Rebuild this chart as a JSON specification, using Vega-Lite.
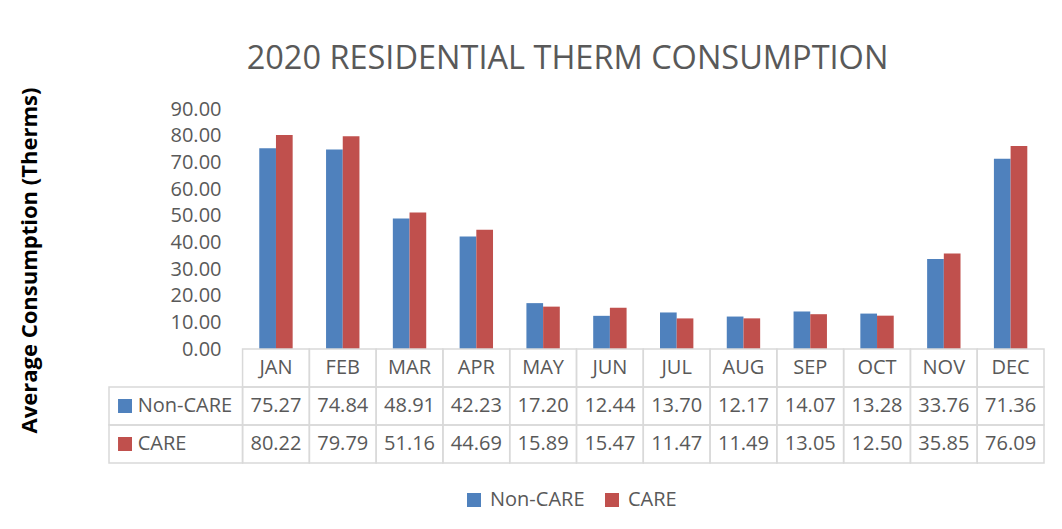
{
  "$schema": "https://vega.github.io/schema/vega-lite/v6.json",
  "width": 935,
  "height": 354,
  "autosize": {"type": "none"},
  "padding": {"left": 109, "top": 109, "right": 18, "bottom": 66},
  "background": "#ffffff",
  "config": {"view": {"stroke": null}, "font": "Open Sans"},
  "title": {
    "text": "2020 RESIDENTIAL THERM CONSUMPTION",
    "font": "Open Sans",
    "fontSize": 32.5,
    "fontWeight": "normal",
    "color": "#595959",
    "anchor": "middle",
    "frame": "group",
    "dx": -9,
    "offset": 12
  },
  "data": {
    "values": [
      {"month": "JAN", "series": "Non-CARE", "value": 75.27},
      {"month": "FEB", "series": "Non-CARE", "value": 74.84},
      {"month": "MAR", "series": "Non-CARE", "value": 48.91},
      {"month": "APR", "series": "Non-CARE", "value": 42.23},
      {"month": "MAY", "series": "Non-CARE", "value": 17.20},
      {"month": "JUN", "series": "Non-CARE", "value": 12.44},
      {"month": "JUL", "series": "Non-CARE", "value": 13.70},
      {"month": "AUG", "series": "Non-CARE", "value": 12.17},
      {"month": "SEP", "series": "Non-CARE", "value": 14.07},
      {"month": "OCT", "series": "Non-CARE", "value": 13.28},
      {"month": "NOV", "series": "Non-CARE", "value": 33.76},
      {"month": "DEC", "series": "Non-CARE", "value": 71.36},
      {"month": "JAN", "series": "CARE", "value": 80.22},
      {"month": "FEB", "series": "CARE", "value": 79.79},
      {"month": "MAR", "series": "CARE", "value": 51.16},
      {"month": "APR", "series": "CARE", "value": 44.69},
      {"month": "MAY", "series": "CARE", "value": 15.89},
      {"month": "JUN", "series": "CARE", "value": 15.47},
      {"month": "JUL", "series": "CARE", "value": 11.47},
      {"month": "AUG", "series": "CARE", "value": 11.49},
      {"month": "SEP", "series": "CARE", "value": 13.05},
      {"month": "OCT", "series": "CARE", "value": 12.50},
      {"month": "NOV", "series": "CARE", "value": 35.85},
      {"month": "DEC", "series": "CARE", "value": 76.09}
    ]
  },
  "resolve": {"scale": {"y": "independent"}, "axis": {"y": "independent"}},
  "layer": [
    {
      "mark": {"type": "bar"},
      "encoding": {
        "x": {"field": "month", "type": "nominal", "axis": null,
          "scale": {"domain": ["L1","L2","JAN","FEB","MAR","APR","MAY","JUN","JUL","AUG","SEP","OCT","NOV","DEC"], "paddingInner": 0, "paddingOuter": 0}},
        "xOffset": {"field": "series", "type": "nominal", "sort": ["Non-CARE","CARE"],
          "scale": {"domain": ["Non-CARE","CARE"], "paddingInner": 0, "paddingOuter": 1.15}},
        "y": {"field": "value", "type": "quantitative",
          "scale": {"domain": [0, 90], "range": [240, 0], "nice": false, "zero": true},
          "axis": {
            "values": [0,10,20,30,40,50,60,70,80,90],
            "format": ".2f",
            "offset": -134,
            "domain": false, "ticks": false, "tickSize": 0, "grid": false,
            "labelPadding": 22,
            "labelFont": "Open Sans", "labelFontSize": 20, "labelColor": "#595959",
            "title": "Average Consumption (Therms)",
            "titleFont": "Open Sans", "titleFontSize": 22, "titleFontWeight": "bold", "titleColor": "#000000",
            "titleX": -214, "titleY": 151, "titleBaseline": "middle", "titleAngle": -90
          }},
        "color": {"field": "series", "type": "nominal",
          "scale": {"domain": ["Non-CARE","CARE"], "range": ["#4F81BD","#C0504D"]},
          "legend": {
            "title": null, "orient": "none", "direction": "horizontal",
            "legendX": 355, "legendY": 381,
            "symbolType": "square", "symbolSize": 196, "symbolStrokeWidth": 0,
            "labelFont": "Open Sans", "labelFontSize": 20, "labelColor": "#595959",
            "labelOffset": 6, "columnPadding": 17
          }}
      }
    },
    {
      "layer": [
        {
          "transform": [{"filter": "datum.series === 'Non-CARE'"}],
          "mark": {"type": "rect", "filled": false, "stroke": "#D9D9D9", "strokeWidth": 1.5},
          "encoding": {
            "x": {"field": "month", "type": "nominal", "axis": null},
            "y": {"datum": "header", "type": "nominal", "axis": null,
              "scale": {"domain": ["header","Non-CARE","CARE"], "range": [240, 354], "paddingInner": 0, "paddingOuter": 0}}
          }
        },
        {
          "mark": {"type": "rect", "filled": false, "stroke": "#D9D9D9", "strokeWidth": 1.5},
          "encoding": {
            "x": {"field": "month", "type": "nominal", "axis": null},
            "y": {"field": "series", "type": "nominal", "axis": null,
              "scale": {"domain": ["header","Non-CARE","CARE"], "range": [240, 354], "paddingInner": 0, "paddingOuter": 0}}
          }
        },
        {
          "transform": [{"filter": "datum.month === 'JAN'"}],
          "mark": {"type": "rect", "filled": false, "stroke": "#D9D9D9", "strokeWidth": 1.5},
          "encoding": {
            "x": {"datum": "L1", "type": "nominal", "bandPosition": 0, "axis": null},
            "x2": {"datum": "L2", "bandPosition": 1},
            "y": {"field": "series", "type": "nominal", "axis": null,
              "scale": {"domain": ["header","Non-CARE","CARE"], "range": [240, 354], "paddingInner": 0, "paddingOuter": 0}}
          }
        },
        {
          "transform": [{"filter": "datum.series === 'Non-CARE'"}],
          "mark": {"type": "text", "font": "Open Sans", "fontSize": 20, "color": "#595959", "align": "center", "baseline": "middle"},
          "encoding": {
            "x": {"field": "month", "type": "nominal", "axis": null},
            "y": {"datum": "header", "type": "nominal", "axis": null,
              "scale": {"domain": ["header","Non-CARE","CARE"], "range": [240, 354], "paddingInner": 0, "paddingOuter": 0}},
            "text": {"field": "month"}
          }
        },
        {
          "mark": {"type": "text", "font": "Open Sans", "fontSize": 20, "color": "#595959", "align": "center", "baseline": "middle"},
          "encoding": {
            "x": {"field": "month", "type": "nominal", "axis": null},
            "y": {"field": "series", "type": "nominal", "axis": null,
              "scale": {"domain": ["header","Non-CARE","CARE"], "range": [240, 354], "paddingInner": 0, "paddingOuter": 0}},
            "text": {"field": "value", "format": ".2f"}
          }
        },
        {
          "transform": [{"filter": "datum.month === 'JAN'"}],
          "mark": {"type": "text", "font": "Open Sans", "fontSize": 20, "color": "#595959", "align": "left", "baseline": "middle"},
          "encoding": {
            "x": {"datum": "L1", "type": "nominal", "bandPosition": 0.43, "axis": null},
            "y": {"field": "series", "type": "nominal", "axis": null,
              "scale": {"domain": ["header","Non-CARE","CARE"], "range": [240, 354], "paddingInner": 0, "paddingOuter": 0}},
            "text": {"field": "series"}
          }
        },
        {
          "transform": [{"filter": "datum.month === 'JAN'"}],
          "mark": {"type": "point", "shape": "square", "filled": true, "size": 196, "opacity": 1},
          "encoding": {
            "x": {"datum": "L1", "type": "nominal", "bandPosition": 0.24, "axis": null},
            "y": {"field": "series", "type": "nominal", "axis": null,
              "scale": {"domain": ["header","Non-CARE","CARE"], "range": [240, 354], "paddingInner": 0, "paddingOuter": 0}},
            "color": {"field": "series", "type": "nominal"}
          }
        }
      ]
    }
  ]
}
